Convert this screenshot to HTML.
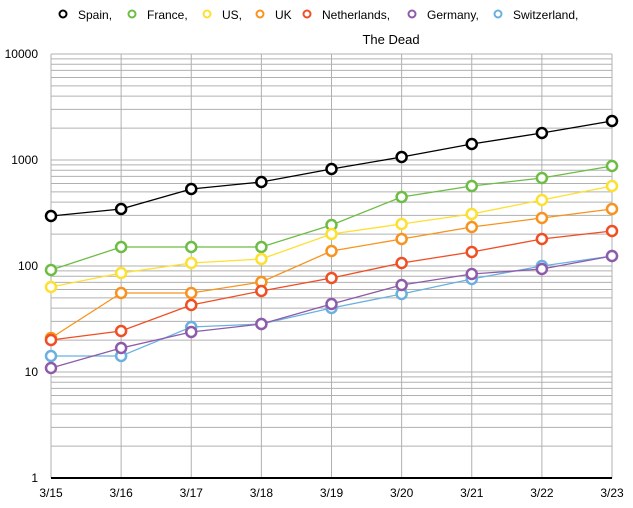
<!DOCTYPE html>
<html><head><meta charset="utf-8"><style>
html,body{margin:0;padding:0;background:#fff;}
svg{display:block;font-family:"Liberation Sans",sans-serif;}
</style></head><body>
<svg width="633" height="508" viewBox="0 0 633 508" xmlns="http://www.w3.org/2000/svg">
<g id="grid" stroke="#b0b0b0" stroke-width="1" fill="none"></g>
<line x1="51" y1="478" x2="612" y2="478" stroke="#000" stroke-width="2"/>
<g font-size="12" fill="#000" text-anchor="end">
<text x="38" y="58">10000</text><text x="38" y="164">1000</text><text x="38" y="270">100</text><text x="38" y="376">10</text><text x="38" y="482">1</text>
</g>
<g font-size="12" fill="#000" text-anchor="middle" id="xl"></g>
<text x="391" y="44" font-size="13" text-anchor="middle">The Dead</text>
<g font-size="12" fill="#000" id="leg"></g>
<g id="series"></g>
<script>
var ns="http://www.w3.org/2000/svg";
function el(p,t,a,txt){var e=document.createElementNS(ns,t);for(var k in a)e.setAttribute(k,a[k]);if(txt)e.textContent=txt;p.appendChild(e);return e;}
var g=document.getElementById('grid');
for(var d=0;d<4;d++){for(var m=1;m<=10;m++){var y=478-106*(d+Math.log10(m));el(g,'line',{x1:51,x2:612,y1:y,y2:y});}}
var xs=[];for(var i=0;i<9;i++){xs.push(51+i*70.125);el(g,'line',{x1:xs[i],x2:xs[i],y1:54,y2:478});}
var xl=document.getElementById('xl');
for(var i=0;i<9;i++)el(xl,'text',{x:xs[i],y:497},'3/'+(15+i));
var S=[
['Spain','#000',[216,209,189,182,169,157,144,133,121]],
['France','#6dbd45',[270,247,247,247,225,197,186,178,166]],
['US','#fde030',[287,273,263,259,234,224,214,200,186]],
['UK','#f7931e',[338,293,293,282,251,239,227,218,209]],
['Netherlands','#f04e23',[340,331,305,291,278,263,252,239,231]],
['Switzerland','#6ab0e0',[356,356,327,324,308,294,279,266,256]],
['Germany','#8e5bab',[368,348,332,324,304,285,274,269,256]]
];
var sg=document.getElementById('series');
S.forEach(function(s){var pts=s[2].map(function(y,i){return xs[i]+','+y}).join(' ');
el(sg,'polyline',{points:pts,fill:'none',stroke:s[1],'stroke-width':1.3});});
S.forEach(function(s){s[2].forEach(function(y,i){el(sg,'circle',{cx:xs[i],cy:y,r:5,fill:'#fff',stroke:s[1],'stroke-width':2.5});});});
var L=[['Spain,','#000',63],['France,','#6dbd45',132],['US,','#fde030',207],['UK','#f7931e',260],['Netherlands,','#f04e23',307],['Germany,','#8e5bab',412],['Switzerland,','#6ab0e0',498]];
var lg=document.getElementById('leg');
L.forEach(function(l){el(lg,'circle',{cx:l[2],cy:14,r:3.5,fill:'#fff',stroke:l[1],'stroke-width':2});el(lg,'text',{x:l[2]+15,y:19},l[0]);});
</script>
</svg>
</body></html>
